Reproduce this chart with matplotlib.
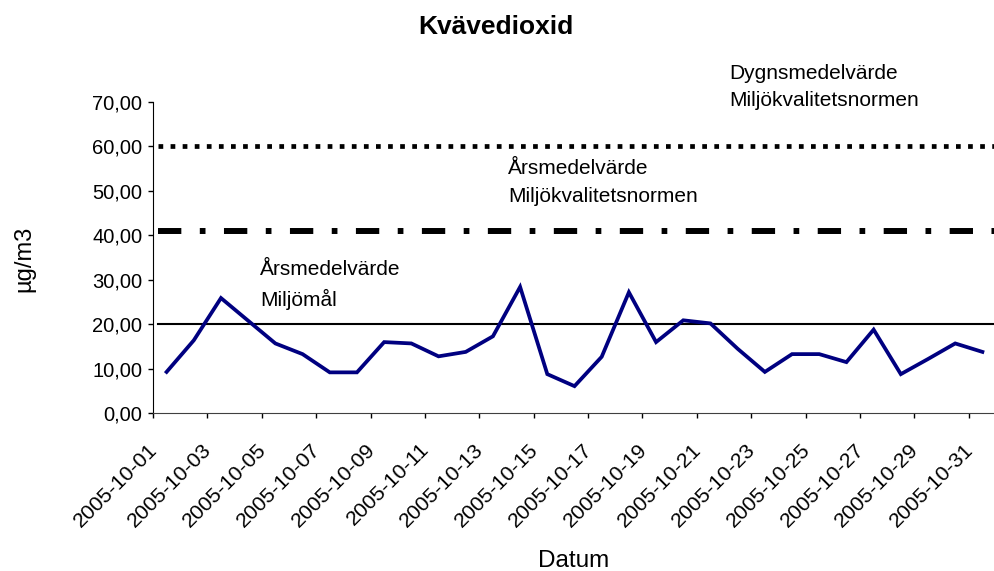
import matplotlib
matplotlib.use("Agg")
import matplotlib.pyplot as plt
from matplotlib.ticker import FixedLocator, FuncFormatter
from matplotlib.transforms import ScaledTranslation

# ==========================================
# Data
# ==========================================

dates = ["2005-10-%02d" % d for d in range(1, 32)]
no2 = [9.3, 16.4, 25.9, 20.8, 15.7, 13.3, 9.2, 9.2, 16.0, 15.7,
       12.8, 13.8, 17.3, 28.4, 8.8, 6.1, 12.7, 27.2, 16.0, 20.9,
       20.2, 14.5, 9.3, 13.3, 13.3, 11.5, 18.8, 8.8, 12.2, 15.7, 13.8]

dygn_mkn = 60      # Dygnsmedelvärde Miljökvalitetsnormen
ars_mkn = 41       # Årsmedelvärde Miljökvalitetsnormen
ars_miljomal = 20  # Årsmedelvärde Miljömål

y_ticks = [0, 10, 20, 30, 40, 50, 60, 70]

# ==========================================
# Figure
# ==========================================

plt.rcParams["font.family"] = ["Liberation Sans", "DejaVu Sans"]
plt.rcParams["lines.scale_dashes"] = False

fig = plt.figure(figsize=(9.94, 5.71), dpi=100)
ax = fig.add_axes([153 / 994, 1 - 413.3 / 571, 843 / 994, 311.5 / 571])

x = list(range(1, len(dates) + 1))

# reference lines
ax.axhline(dygn_mkn, xmin=0.006, xmax=1, color="black", lw=3.4,
           linestyle=(0, (3.4, 5.3)), dash_capstyle="butt")
ax.axhline(ars_mkn, xmin=0.006, xmax=1, color="black", lw=4.3,
           linestyle=(0, (16.8, 13.3, 4.1, 13.3)), dash_capstyle="butt")
ax.axhline(ars_miljomal, xmin=0.006, xmax=1, color="black", lw=1.5)

# measured values
ax.plot(x, no2, color="#000080", lw=2.7, solid_joinstyle="miter")

ax.set_xlim(0.5, len(dates) + 0.5)
ax.set_ylim(0, 70)

# y axis
ax.set_yticks(y_ticks)
ax.yaxis.set_major_formatter(FuncFormatter(lambda v, p: ("%.2f" % v).replace(".", ",")))
ax.tick_params(axis="y", direction="out", length=3.6, width=1, pad=4, labelsize=14.5)

# x axis: tick marks between categories, labels on every other date
ax.xaxis.set_major_locator(FixedLocator([i + 0.5 for i in range(0, len(dates), 2)]))
ax.xaxis.set_minor_locator(FixedLocator(x[::2]))
ax.set_xticklabels([], minor=False)
ax.set_xticklabels(dates[::2], minor=True)
ax.tick_params(axis="x", which="major", direction="out", length=3.6, width=1)
ax.tick_params(axis="x", which="minor", length=0, pad=19, labelsize=15.3)
for lab in ax.get_xticklabels(minor=True):
    lab.set_rotation(45)
    lab.set_ha("right")
    lab.set_va("top")
    lab.set_rotation_mode("anchor")
    lab.set_transform(lab.get_transform() + ScaledTranslation(-0.19, 0, fig.dpi_scale_trans))

for side in ["top", "right"]:
    ax.spines[side].set_visible(False)
ax.spines["left"].set_color("black")
ax.spines["bottom"].set_color("#404040")

# annotations
ax.text(21.7, 69.05, "Dygnsmedelvärde\nMiljökvalitetsnormen", fontsize=15,
        va="baseline", ha="left", linespacing=1.55)
ax.text(13.55, 47.55, "Årsmedelvärde\nMiljökvalitetsnormen", fontsize=15,
        va="baseline", ha="left", linespacing=1.55)
ax.text(4.43, 24.2, "Årsmedelvärde\nMiljömål", fontsize=15,
        va="baseline", ha="left", linespacing=1.55)

fig.text(0.4985, 1 - 34 / 571, "Kvävedioxid", fontsize=19, fontweight="bold",
         ha="center", va="baseline")
fig.text(0.5768, 1 - 566.7 / 571, "Datum", fontsize=17.5, ha="center", va="baseline")
fig.text(0.025, 1 - 259 / 571, "µg/m3", fontsize=17, rotation=90, ha="center", va="center")

fig.savefig("out.png", dpi=100)
